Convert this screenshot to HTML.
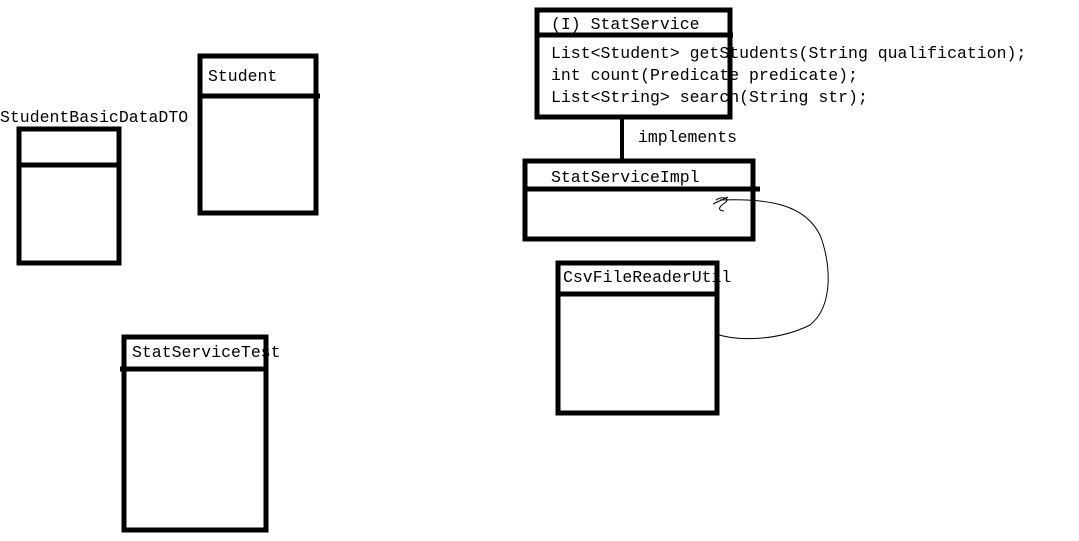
<!DOCTYPE html>
<html><head><style>
html,body{margin:0;padding:0;background:#fff;width:1079px;height:541px;overflow:hidden}
text{font-family:"Liberation Mono",monospace;font-size:16.5px;fill:#000}
</style></head><body>
<svg width="1079" height="541" xmlns="http://www.w3.org/2000/svg">
<g fill="none" stroke="#000" stroke-width="5">
<rect x="537" y="10" width="193" height="107"/>
<line x1="537" y1="35" x2="733" y2="35"/>
<line x1="622" y1="117" x2="622" y2="162" stroke-width="4"/>
<rect x="525" y="161" width="228" height="78"/>
<line x1="525" y1="189" x2="760" y2="189"/>
<rect x="558" y="263" width="159" height="150"/>
<line x1="558" y1="294" x2="717" y2="294"/>
<rect x="200" y="56" width="116" height="157"/>
<line x1="200" y1="96" x2="320" y2="96"/>
<rect x="19" y="129" width="100" height="134"/>
<line x1="19" y1="165" x2="119" y2="165"/>
<rect x="124" y="337" width="142" height="193"/>
<line x1="120" y1="369" x2="266" y2="369"/>
</g>
<path d="M716 334 C740 342 780 340 810 325 C835 305 830 260 820 235 C805 205 770 198 720 200" fill="none" stroke="#000" stroke-width="1"/>
<path d="M713 204 L728 197 M716 200 C722 196 730 198 726 202 C720 206 716 210 724 211" fill="none" stroke="#000" stroke-width="1"/>
<text x="551" y="29">(I) StatService</text>
<text x="551" y="58">List&lt;Student&gt; getStudents(String qualification);</text>
<text x="551" y="80">int count(Predicate predicate);</text>
<text x="551" y="102">List&lt;String&gt; search(String str);</text>
<text x="638" y="142">implements</text>
<text x="551" y="182">StatServiceImpl</text>
<text x="563" y="282">CsvFileReaderUtil</text>
<text x="208" y="81">Student</text>
<text x="0" y="122">StudentBasicDataDTO</text>
<text x="132" y="357">StatServiceTest</text>
</svg>
</body></html>
